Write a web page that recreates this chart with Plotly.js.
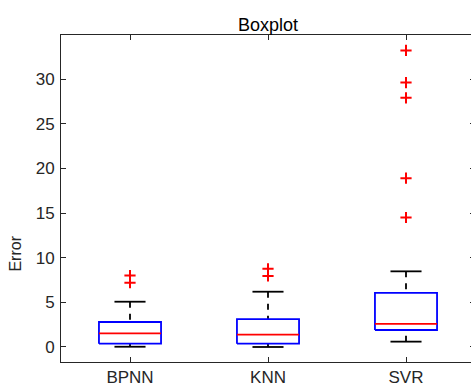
<!DOCTYPE html>
<html><head><meta charset="utf-8">
<script src="https://cdn.plot.ly/plotly-3.0.1.min.js"></script>
<style>html,body{margin:0;padding:0;overflow:hidden;background:#fff}</style>
</head><body><div id="chart"></div>
<script>
// ---- data ----
const categories = ['BPNN', 'KNN', 'SVR'];
const q1 = [0.37, 0.37, 1.90];
const medians = [1.53, 1.38, 2.58];
const q3 = [2.80, 3.13, 6.05];
const lowerWhisker = [0.03, 0.00, 0.60];
const upperWhisker = [5.07, 6.19, 8.47];
const outliersBPNN = [8.0, 7.2];
const outliersKNN = [8.75, 7.95];
const outliersSVR = [33.2, 29.6, 27.9, 18.9, 14.5];
const yTickVals = [0, 5, 10, 15, 20, 25, 30];

// ---- styles ----
const BOX_HALF = 0.225, CAP_HALF = 0.1125;
const FONT = 'Arial, "Liberation Sans", Helvetica, sans-serif';
const AX = '#262626';

const pos = categories.map((c, i) => i + 1);
const boxX = [], boxY = [], medX = [], medY = [], whX = [], whY = [], capX = [], capY = [];
pos.forEach((p, i) => {
  boxX.push(p - BOX_HALF, p + BOX_HALF, p + BOX_HALF, p - BOX_HALF, p - BOX_HALF, null);
  boxY.push(q1[i], q1[i], q3[i], q3[i], q1[i], null);
  medX.push(p - BOX_HALF, p + BOX_HALF, null);
  medY.push(medians[i], medians[i], null);
  whX.push(p, p, null, p, p, null);
  whY.push(upperWhisker[i], q3[i], null, lowerWhisker[i], q1[i], null);
  capX.push(p - CAP_HALF, p + CAP_HALF, null, p - CAP_HALF, p + CAP_HALF, null);
  capY.push(upperWhisker[i], upperWhisker[i], null, lowerWhisker[i], lowerWhisker[i], null);
});
const outLists = [outliersBPNN, outliersKNN, outliersSVR];
const outX = [], outY = [];
outLists.forEach((arr, i) => arr.forEach(v => { outX.push(pos[i]); outY.push(v); }));

const traces = [
  {x: whX, y: whY, mode: 'lines', line: {color: '#000', width: 1.8, dash: '6px,6px'}, hoverinfo: 'skip'},
  {x: capX, y: capY, mode: 'lines', line: {color: '#000', width: 1.8}, hoverinfo: 'skip'},
  {x: boxX, y: boxY, mode: 'lines', line: {color: '#0000FF', width: 1.8}, hoverinfo: 'skip'},
  {x: medX, y: medY, mode: 'lines', line: {color: '#FF0000', width: 1.8}, hoverinfo: 'skip'},
  {x: outX, y: outY, mode: 'markers', marker: {symbol: 'cross-thin', size: 8, line: {color: '#FF0000', width: 2}}, hoverinfo: 'y'}
];

const axisCommon = {
  showline: true, linecolor: AX, linewidth: 1, mirror: 'ticks',
  ticks: 'inside', ticklen: 5, tickwidth: 1, tickcolor: AX,
  showgrid: false, zeroline: false,
  tickfont: {family: FONT, size: 17, color: AX}
};

const layout = {
  width: 480, height: 387,
  margin: {l: 61, r: 5, t: 35, b: 25},
  paper_bgcolor: '#fff', plot_bgcolor: '#fff',
  showlegend: false,
  title: {text: 'Boxplot', font: {family: FONT, size: 18, color: '#000'}, xref: 'paper', x: 0.5, xanchor: 'center', yref: 'paper', y: 1, yanchor: 'bottom', pad: {b: 4}},
  xaxis: Object.assign({}, axisCommon, {range: [0.5, 3.5], tickvals: pos, ticktext: categories}),
  yaxis: Object.assign({}, axisCommon, {range: [-1.68, 34.93], tickvals: yTickVals, ticklabelstandoff: 2}),
  annotations: [{text: 'Error', textangle: -90, xref: 'paper', yref: 'paper', x: -0.11, y: 0.333, xanchor: 'center', yanchor: 'middle', showarrow: false, font: {family: FONT, size: 16, color: AX}}]
};

Plotly.newPlot('chart', traces, layout, {displayModeBar: false, staticPlot: true});
</script>
</body></html>
